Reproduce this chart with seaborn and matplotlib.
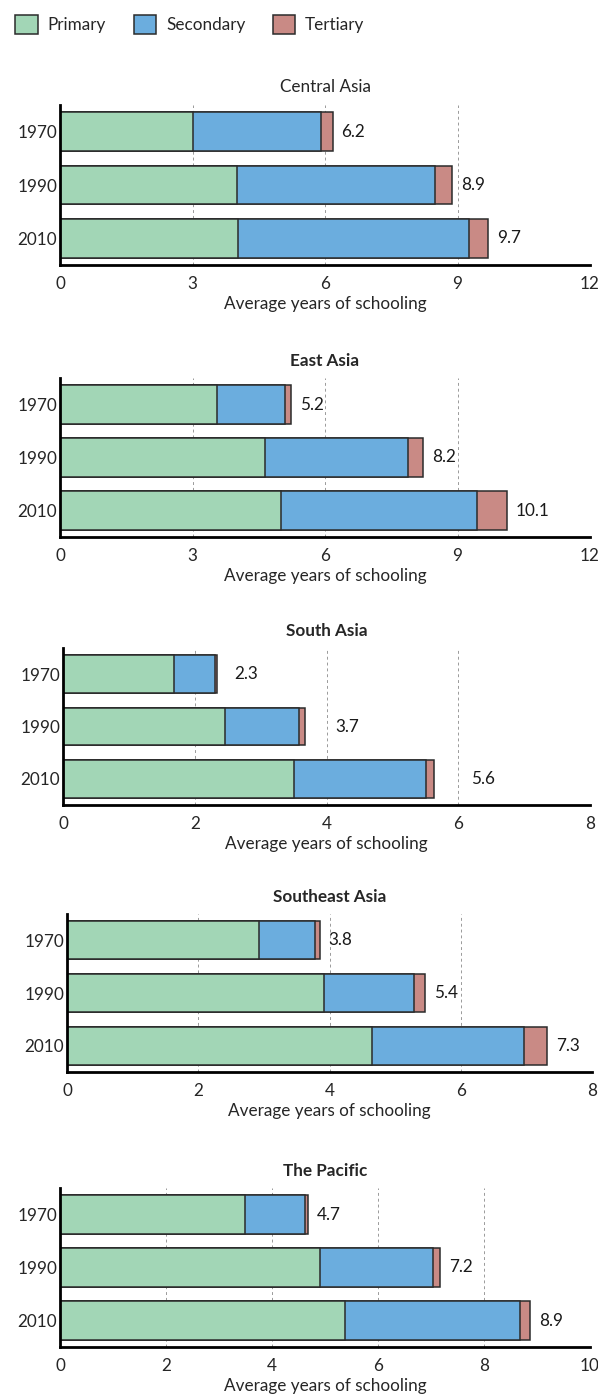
import pandas as pd
import matplotlib.pyplot as plt
import seaborn as sns
from matplotlib.patches import Patch

# years of schooling by level
years = ['1970', '1990', '2010']
regions = ['Central Asia', 'East Asia', 'South Asia', 'Southeast Asia', 'The Pacific']

primary = {
    'Central Asia': [3.0, 4.0, 4.03],
    'East Asia': [3.56, 4.65, 5.0],
    'South Asia': [1.68, 2.46, 3.5],
    'Southeast Asia': [2.93, 3.91, 4.65],
    'The Pacific': [3.49, 4.91, 5.37],
}
secondary = {
    'Central Asia': [2.9, 4.5, 5.23],
    'East Asia': [1.53, 3.24, 4.44],
    'South Asia': [0.63, 1.13, 2.01],
    'Southeast Asia': [0.85, 1.38, 2.32],
    'The Pacific': [1.14, 2.12, 3.31],
}
tertiary = {
    'Central Asia': [0.27, 0.37, 0.44],
    'East Asia': [0.13, 0.34, 0.67],
    'South Asia': [0.03, 0.09, 0.12],
    'Southeast Asia': [0.07, 0.17, 0.35],
    'The Pacific': [0.05, 0.14, 0.19],
}
total_labels = {
    'Central Asia': ['6.2', '8.9', '9.7'],
    'East Asia': ['5.2', '8.2', '10.1'],
    'South Asia': ['2.3', '3.7', '5.6'],
    'Southeast Asia': ['3.8', '5.4', '7.3'],
    'The Pacific': ['4.7', '7.2', '8.9'],
}
x_max = {'Central Asia': 12, 'East Asia': 12, 'South Asia': 8,
         'Southeast Asia': 8, 'The Pacific': 10}
x_step = {'Central Asia': 3, 'East Asia': 3, 'South Asia': 2,
          'Southeast Asia': 2, 'The Pacific': 2}

colors = {'Primary': '#a2d6b6', 'Secondary': '#6badde', 'Tertiary': '#c98a85'}

sns.set_theme(style='white')
plt.rcParams['font.family'] = ['Lato', 'DejaVu Sans']

W, H = 598, 1395
fig = plt.figure(figsize=(W / 100, H / 100), dpi=100)
FS = 12.3

# axes boxes in pixels: left, right, top, bottom
boxes = {
    'Central Asia': (60, 590, 105, 265),
    'East Asia': (60, 590, 378, 537),
    'South Asia': (63, 590, 648, 805),
    'Southeast Asia': (67, 592, 914, 1072),
    'The Pacific': (60, 590, 1188, 1347),
}
label_pad = {'South Asia': [17, 30, 37]}

for region in regions:
    l, r, t, b = boxes[region]
    ax = fig.add_axes([l / W, 1 - b / H, (r - l) / W, (b - t) / H])

    df = pd.DataFrame({
        'year': years,
        'Primary': primary[region],
        'Secondary': secondary[region],
        'Tertiary': tertiary[region],
    })
    df['ps'] = df['Primary'] + df['Secondary']
    df['total'] = df['ps'] + df['Tertiary']

    # stacked bars: draw the cumulative totals from the back to the front
    for col, key in [('total', 'Tertiary'), ('ps', 'Secondary'), ('Primary', 'Primary')]:
        sns.barplot(data=df, y='year', x=col, orient='h', color=colors[key],
                    saturation=1, width=0.72, edgecolor='#2b2b2b', linewidth=1.1,
                    ax=ax, zorder=3)

    pads = label_pad.get(region, [9, 9, 9])
    for i, (tot, txt) in enumerate(zip(df['total'], total_labels[region])):
        ax.annotate(txt, xy=(tot, i), xytext=(pads[i], 0), textcoords='offset pixels',
                    va='center', ha='left', fontsize=FS, color='#1a1a1a')

    ax.set_xlim(0, x_max[region])
    ax.set_xticks(range(0, x_max[region] + 1, x_step[region]))
    ax.set_ylim(2.5, -0.5)
    ax.grid(axis='x', linestyle=(0, (3, 3)), color='#9a9a9a', linewidth=0.7, zorder=0)
    ax.set_axisbelow(True)
    sns.despine(ax=ax)
    for s in ['left', 'bottom']:
        ax.spines[s].set_color('black')
        ax.spines[s].set_linewidth(2.0)
        ax.spines[s].set_zorder(5)
    ax.tick_params(axis='y', direction='in', length=9, width=1.8, color='black',
                   labelsize=FS, pad=2, left=True)
    ax.tick_params(axis='x', length=0, labelsize=FS, pad=8)
    ax.set_ylabel('')
    ax.set_xlabel('Average years of schooling', fontsize=FS, labelpad=3)
    weight = 'normal' if region == 'Central Asia' else 'bold'
    ax.set_title(region, fontsize=FS, fontweight=weight, pad=9)

handles = [Patch(facecolor=colors[k], edgecolor='#2b2b2b', linewidth=1.1, label=k)
           for k in ['Primary', 'Secondary', 'Tertiary']]
fig.legend(handles=handles, loc='upper left', bbox_to_anchor=(0.0, 1.0), ncol=3,
           frameon=False, fontsize=FS, handlelength=1.3, handleheight=1.3,
           handletextpad=0.6, columnspacing=1.6)

fig.savefig('out.png', dpi=100)
